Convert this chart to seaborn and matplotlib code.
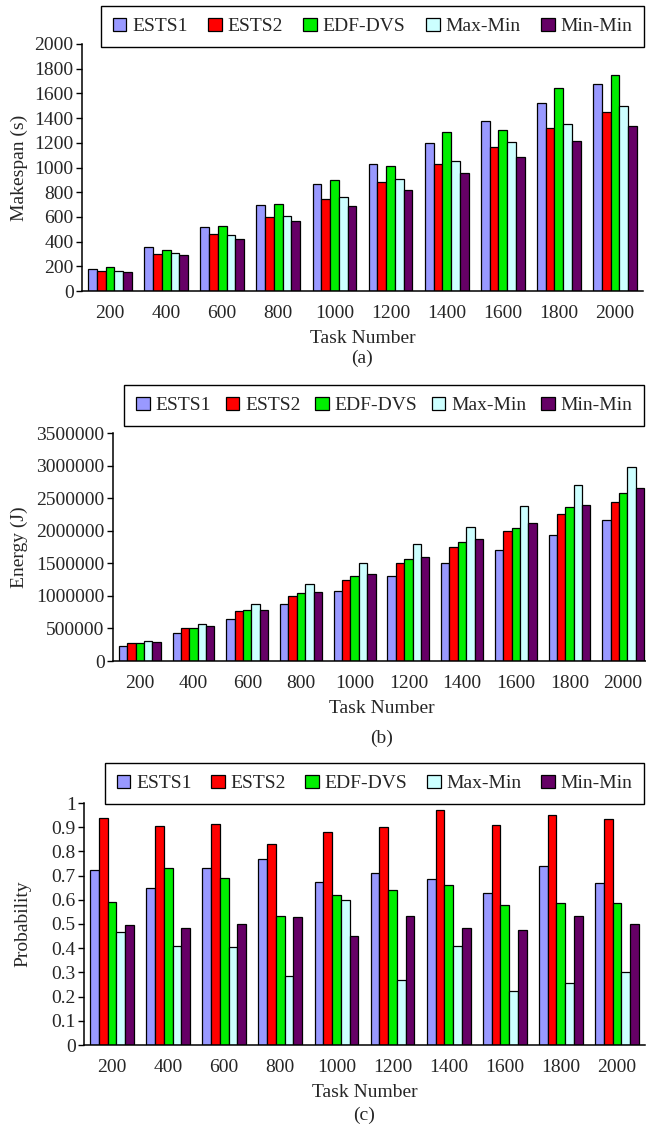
import numpy as np
import pandas as pd
import matplotlib
matplotlib.use('Agg')
import matplotlib.pyplot as plt
import seaborn as sns

# Data
tasks = ['200', '400', '600', '800', '1000', '1200', '1400', '1600', '1800', '2000']
methods = ['ESTS1', 'ESTS2', 'EDF-DVS', 'Max-Min', 'Min-Min']
colors = ['#9999FF', '#FF0000', '#00EE00', '#CCFFFF', '#660066']

makespan_ests1 = [180, 355, 520, 695, 865, 1030, 1195, 1375, 1525, 1680]
makespan_ests2 = [160, 300, 460, 600, 745, 885, 1030, 1170, 1320, 1450]
makespan_edf = [195, 335, 530, 705, 900, 1010, 1290, 1305, 1645, 1750]
makespan_maxmin = [160, 310, 455, 605, 760, 905, 1050, 1205, 1350, 1495]
makespan_minmin = [150, 290, 420, 565, 690, 820, 955, 1085, 1215, 1340]

energy_ests1 = [230000, 430000, 650000, 870000, 1080000, 1300000, 1500000, 1710000, 1940000, 2160000]
energy_ests2 = [270000, 510000, 770000, 1000000, 1240000, 1500000, 1750000, 2000000, 2260000, 2440000]
energy_edf = [270000, 510000, 790000, 1040000, 1300000, 1570000, 1830000, 2040000, 2360000, 2580000]
energy_maxmin = [310000, 570000, 870000, 1180000, 1500000, 1790000, 2060000, 2380000, 2700000, 2980000]
energy_minmin = [290000, 530000, 790000, 1060000, 1340000, 1600000, 1870000, 2120000, 2400000, 2650000]

prob_ests1 = [0.725, 0.65, 0.73, 0.77, 0.675, 0.71, 0.685, 0.63, 0.74, 0.67]
prob_ests2 = [0.94, 0.905, 0.915, 0.83, 0.88, 0.90, 0.97, 0.91, 0.95, 0.935]
prob_edf = [0.59, 0.73, 0.69, 0.535, 0.62, 0.64, 0.66, 0.58, 0.585, 0.585]
prob_maxmin = [0.465, 0.41, 0.405, 0.285, 0.60, 0.27, 0.41, 0.225, 0.255, 0.30]
prob_minmin = [0.495, 0.485, 0.50, 0.53, 0.45, 0.535, 0.485, 0.475, 0.535, 0.50]


def to_long(series):
    rows = []
    for m, vals in zip(methods, series):
        for t, v in zip(tasks, vals):
            rows.append({'task': t, 'method': m, 'value': v})
    return pd.DataFrame(rows)


sns.set_style('white')
plt.rcParams['font.family'] = ['Liberation Serif', 'DejaVu Serif']
plt.rcParams['font.size'] = 14

W, H = 646, 1124
fig = plt.figure(figsize=(W / 100, H / 100), dpi=100)


def px_axes(left, right, top, bottom):
    return fig.add_axes([left / W, 1 - bottom / H, (right - left) / W, (bottom - top) / H])


def draw_panel(ax, series, ylabel, yticks, ylabels, label_x, leg_box, colspacing, caption, cap_y):
    df = to_long(series)
    sns.barplot(data=df, x='task', y='value', hue='method', order=tasks, hue_order=methods,
                palette=colors, edgecolor='black', linewidth=0.9, width=0.78, gap=0,
                saturation=1, ax=ax)
    ax.set_xlim(-0.5, 9.5)
    ax.set_ylim(yticks[0], yticks[-1])
    ax.set_yticks(yticks)
    ax.set_yticklabels(ylabels)
    ax.set_xticks(np.arange(-0.5, 10, 1), minor=True)
    ax.tick_params(axis='x', which='major', length=0, pad=10, labelsize=14)
    ax.tick_params(axis='x', which='minor', direction='in', length=5, width=1, color='black')
    ax.tick_params(axis='y', which='major', direction='out', length=4, width=1, pad=2,
                   left=True, color='black', labelsize=14)
    for s in ['top', 'right']:
        ax.spines[s].set_visible(False)
    for s in ['left', 'bottom']:
        ax.spines[s].set_color('black')
        ax.spines[s].set_linewidth(1.1)
    ax.set_xlabel('Task Number', fontsize=14, labelpad=6)
    ax.set_ylabel(ylabel, fontsize=14)
    ax.yaxis.set_label_coords(label_x, 0.5)

    handles, labels = ax.get_legend_handles_labels()
    if ax.legend_:
        ax.legend_.remove()
    leg = ax.legend(handles, labels, ncol=5, loc='upper right',
                    bbox_to_anchor=(leg_box[0] / W, 1 - leg_box[1] / H),
                    bbox_transform=fig.transFigure, frameon=True, fancybox=False,
                    framealpha=1, edgecolor='black', fontsize=14,
                    handlelength=0.7, handleheight=0.7, handletextpad=0.3,
                    columnspacing=colspacing, borderpad=0.6, borderaxespad=0)
    leg.get_frame().set_linewidth(1.0)

    pos = ax.get_position()
    fig.text(pos.x0 + pos.width / 2, 1 - cap_y / H, caption, ha='center', va='center', fontsize=14)


# (a) makespan
ax1 = px_axes(82, 643, 44, 291)
draw_panel(ax1, [makespan_ests1, makespan_ests2, makespan_edf, makespan_maxmin, makespan_minmin],
           'Makespan (s)', list(range(0, 2001, 200)), [str(v) for v in range(0, 2001, 200)],
           -0.096, (644, 6), 1.05, '(a)', 358)

# (b) energy
ax2 = px_axes(113, 650, 433, 661)
draw_panel(ax2, [energy_ests1, energy_ests2, energy_edf, energy_maxmin, energy_minmin],
           'Energy (J)', list(range(0, 3500001, 500000)), [str(v) for v in range(0, 3500001, 500000)],
           -0.158, (644, 385), 0.75, '(b)', 738)

# (c) probability
prob_ticks = [round(v * 0.1, 1) for v in range(11)]
prob_labels = ['0'] + [f'{v:.1f}' for v in prob_ticks[1:-1]] + ['1']
ax3 = px_axes(84, 645, 803, 1045)
draw_panel(ax3, [prob_ests1, prob_ests2, prob_edf, prob_maxmin, prob_minmin],
           'Probability', prob_ticks, prob_labels,
           -0.093, (644, 763), 1.0, '(c)', 1115)

plt.savefig('out.png', dpi=100)
